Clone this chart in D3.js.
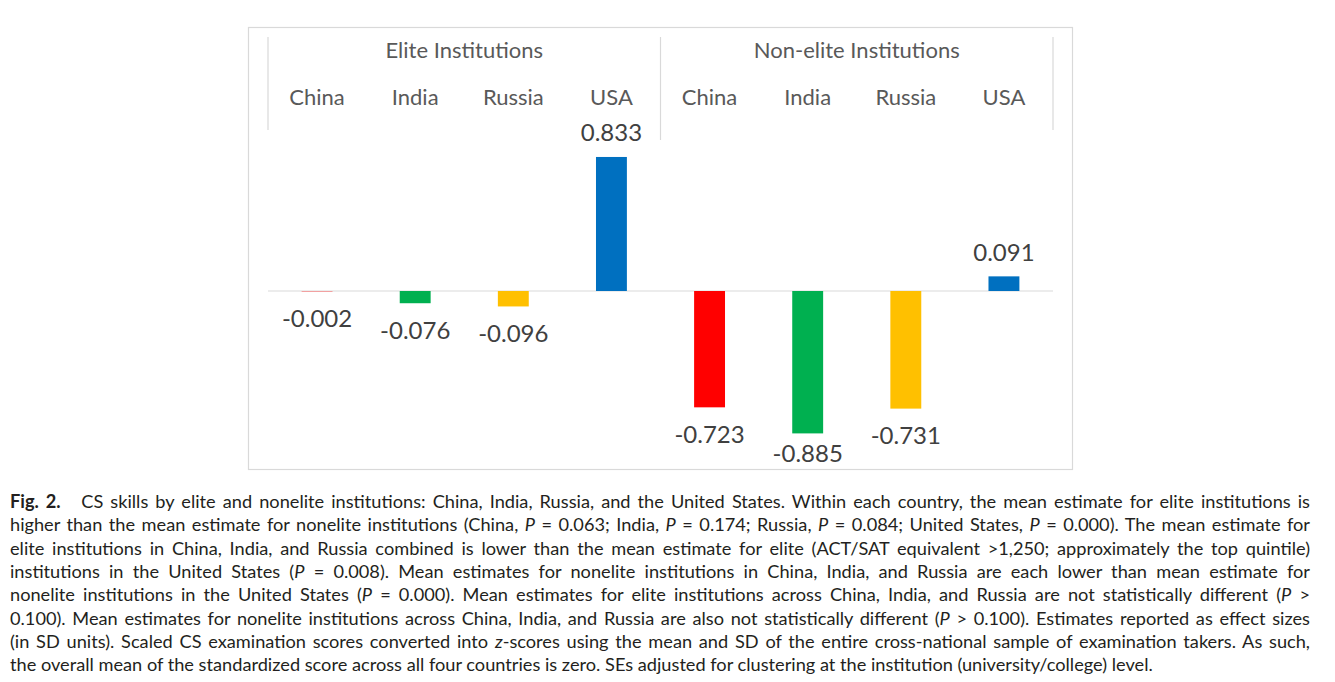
<!DOCTYPE html>
<html><head><meta charset="utf-8">
<script src="https://cdn.jsdelivr.net/npm/d3@7"></script>
<style>
body{margin:0;background:#fff;width:1335px;height:682px;overflow:hidden;position:relative;}
#cap{position:absolute;left:10px;top:490px;width:1300px;font-family:Lato,"Open Sans",sans-serif;font-size:18.2px;color:#231f20;line-height:23.35px;}
#cap div{text-align:justify;text-align-last:justify;white-space:nowrap;}
#cap div.last{text-align-last:left;}
</style></head><body>
<svg id="chart" width="1335" height="482" style="position:absolute;left:0;top:0"></svg>
<div id="cap"></div>
<script>
const groups = ["Elite Institutions", "Non-elite Institutions"];
const countries = ["China", "India", "Russia", "USA"];
const eliteValues = [-0.002, -0.076, -0.096, 0.833];
const nonEliteValues = [-0.723, -0.885, -0.731, 0.091];
const countryColors = ["#FF0000", "#00B050", "#FFC000", "#0070C0"];
const captionLines = [
  "<b>Fig. 2.</b>&emsp; CS skills by elite and nonelite institutions: China, India, Russia, and the United States. Within each country, the mean estimate for elite institutions is",
  "higher than the mean estimate for nonelite institutions (China, <i>P</i> = 0.063; India, <i>P</i> = 0.174; Russia, <i>P</i> = 0.084; United States, <i>P</i> = 0.000). The mean estimate for",
  "elite institutions in China, India, and Russia combined is lower than the mean estimate for elite (ACT/SAT equivalent &gt;1,250; approximately the top quintile)",
  "institutions in the United States (<i>P</i> = 0.008). Mean estimates for nonelite institutions in China, India, and Russia are each lower than mean estimate for",
  "nonelite institutions in the United States (<i>P</i> = 0.000). Mean estimates for elite institutions across China, India, and Russia are not statistically different (<i>P</i> &gt;",
  "0.100). Mean estimates for nonelite institutions across China, India, and Russia are also not statistically different (<i>P</i> &gt; 0.100). Estimates reported as effect sizes",
  "(in SD units). Scaled CS examination scores converted into <i>z</i>-scores using the mean and SD of the entire cross-national sample of examination takers. As such,",
  "the overall mean of the standardized score across all four countries is zero. SEs adjusted for clustering at the institution (university/college) level."
];

const data = [];
groups.forEach((g, gi) => {
  const vals = gi === 0 ? eliteValues : nonEliteValues;
  countries.forEach((c, ci) => data.push({group: g, gi, country: c, ci, key: g + "|" + c, value: vals[ci]}));
});

const svg = d3.select("#chart");
const font = "Lato, 'Open Sans', sans-serif";

svg.append("rect").attr("x", 248.5).attr("y", 27.5).attr("width", 824).attr("height", 442)
  .attr("fill", "none").attr("stroke", "#d9d9d9").attr("stroke-width", 1.2);

const x = d3.scaleBand().domain(data.map(d => d.key)).range([268, 1053]).padding(0);
const y = d3.scaleLinear().domain([-1, 1]).range([291 + 160.9, 291 - 160.9]);
const bw = x.bandwidth() * 0.315;
const cx = d => x(d.key) + x.bandwidth() / 2;

// zero line
svg.append("line").attr("x1", 268).attr("x2", 1053).attr("y1", y(0)).attr("y2", y(0))
  .attr("stroke", "#d9d9d9").attr("stroke-width", 1.2);

// top category separators
const sepX = [x(data[0].key), x(data[4].key), x.range()[1]];
svg.selectAll("line.sep").data(sepX).join("line").attr("class", "sep")
  .attr("x1", d => d).attr("x2", d => d).attr("y1", 37)
  .attr("y2", (d, i) => i === 1 ? 140 : 130)
  .attr("stroke", "#d9d9d9").attr("stroke-width", 1.2);

// group labels
svg.selectAll("text.grp").data(groups).join("text").attr("class", "grp")
  .attr("x", (g, i) => (sepX[i] + sepX[i + 1]) / 2).attr("y", 58)
  .attr("text-anchor", "middle").attr("font-family", font).attr("font-size", 22)
  .attr("fill", "#595959").text(d => d);

// country labels
svg.selectAll("text.cty").data(data).join("text").attr("class", "cty")
  .attr("x", cx).attr("y", 105)
  .attr("text-anchor", "middle").attr("font-family", font).attr("font-size", 22)
  .attr("fill", "#595959").text(d => d.country);

// bars
svg.selectAll("rect.bar").data(data).join("rect").attr("class", "bar")
  .attr("x", d => cx(d) - bw / 2).attr("width", bw)
  .attr("y", d => y(Math.max(0, d.value)))
  .attr("height", d => Math.abs(y(d.value) - y(0)))
  .attr("fill", d => countryColors[d.ci]);

// value labels
svg.selectAll("text.val").data(data).join("text").attr("class", "val")
  .attr("x", cx)
  .attr("y", d => d.value >= 0 ? y(d.value) - 15.5 : Math.min(y(d.value) + 35.5, 461.5))
  .attr("text-anchor", "middle").attr("font-family", font).attr("font-size", 24)
  .attr("fill", "#404040").text(d => d3.format(".3f")(d.value).replace("−", "-"));

// caption
d3.select("#cap").selectAll("div").data(captionLines).join("div")
  .attr("class", (d, i) => i === captionLines.length - 1 ? "last" : null)
  .html(d => d);
</script>
</body></html>
